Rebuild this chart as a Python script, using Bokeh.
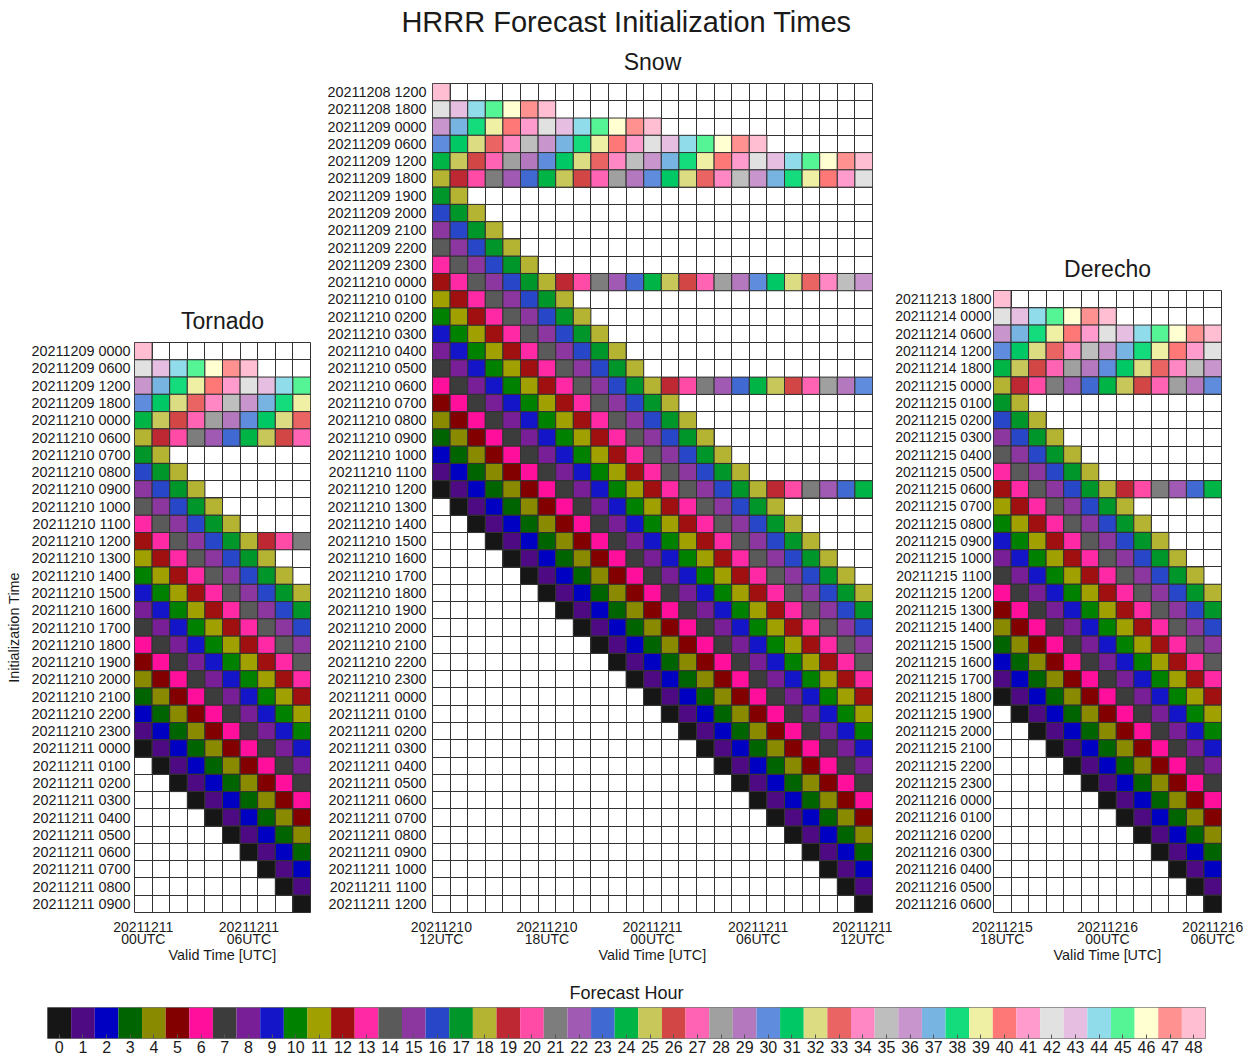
import pandas as pd
from bokeh.plotting import figure
from bokeh.models import ColumnDataSource, FixedTicker, Range1d, Spacer
from bokeh.layouts import row, column
from bokeh.core.properties import value
from bokeh.embed import file_html
from bokeh.resources import INLINE

FONT = "Liberation Sans"
TXT = "#1a1a1a"
EDGE = "#333333"

# ---------------- data ----------------
forecast_hours = list(range(49))
palette = [
    "#161616", "#4e0a82", "#0000c3", "#006400", "#8a8a00", "#820000", "#ff0f9b",
    "#3c3c3c", "#781e96", "#1414c8", "#008200", "#a0a000", "#a01010", "#ff28a5",
    "#5a5a5a", "#8c37a0", "#2846c8", "#00962a", "#b4b432", "#be2832", "#ff4ba5",
    "#7d7d7d", "#a05ab4", "#4169d2", "#00b446", "#c8c85a", "#d24646", "#ff64b4",
    "#a0a0a0", "#b478be", "#5f8cdc", "#00c864", "#dcdc82", "#eb6464", "#ff87c3",
    "#bebebe", "#c896cd", "#78b4e1", "#14dc7d", "#f0f0a5", "#ff7878", "#ff9bcd",
    "#e1e1e1", "#e6bee1", "#91dceb", "#55f596", "#ffffd2", "#ff9191", "#ffbed2",
]

long_run_init_hours = [0, 6, 12, 18]
long_run_length = 48
short_run_length = 18

tornado_init = [
    "20211209 0000", "20211209 0600", "20211209 1200", "20211209 1800",
    "20211210 0000", "20211210 0600", "20211210 0700", "20211210 0800",
    "20211210 0900", "20211210 1000", "20211210 1100", "20211210 1200",
    "20211210 1300", "20211210 1400", "20211210 1500", "20211210 1600",
    "20211210 1700", "20211210 1800", "20211210 1900", "20211210 2000",
    "20211210 2100", "20211210 2200", "20211210 2300", "20211211 0000",
    "20211211 0100", "20211211 0200", "20211211 0300", "20211211 0400",
    "20211211 0500", "20211211 0600", "20211211 0700", "20211211 0800",
    "20211211 0900",
]
tornado_valid = ("2021-12-11 00:00", "2021-12-11 09:00")

snow_init = [
    "20211208 1200", "20211208 1800", "20211209 0000", "20211209 0600",
    "20211209 1200", "20211209 1800", "20211209 1900", "20211209 2000",
    "20211209 2100", "20211209 2200", "20211209 2300",
    "20211210 0000", "20211210 0100", "20211210 0200", "20211210 0300",
    "20211210 0400", "20211210 0500", "20211210 0600", "20211210 0700",
    "20211210 0800", "20211210 0900", "20211210 1000", "20211210 1100",
    "20211210 1200", "20211210 1300", "20211210 1400", "20211210 1500",
    "20211210 1600", "20211210 1700", "20211210 1800", "20211210 1900",
    "20211210 2000", "20211210 2100", "20211210 2200", "20211210 2300",
    "20211211 0000", "20211211 0100", "20211211 0200", "20211211 0300",
    "20211211 0400", "20211211 0500", "20211211 0600", "20211211 0700",
    "20211211 0800", "20211211 0900", "20211211 1000", "20211211 1100",
    "20211211 1200",
]
snow_valid = ("2021-12-10 12:00", "2021-12-11 12:00")

derecho_init = [
    "20211213 1800", "20211214 0000", "20211214 0600", "20211214 1200",
    "20211214 1800",
    "20211215 0000", "20211215 0100", "20211215 0200", "20211215 0300",
    "20211215 0400", "20211215 0500", "20211215 0600", "20211215 0700",
    "20211215 0800", "20211215 0900", "20211215 1000", "20211215 1100",
    "20211215 1200", "20211215 1300", "20211215 1400", "20211215 1500",
    "20211215 1600", "20211215 1700", "20211215 1800", "20211215 1900",
    "20211215 2000", "20211215 2100", "20211215 2200", "20211215 2300",
    "20211216 0000", "20211216 0100", "20211216 0200", "20211216 0300",
    "20211216 0400", "20211216 0500", "20211216 0600",
]
derecho_valid = ("2021-12-15 18:00", "2021-12-16 06:00")

# ---------------- layout constants ----------------
TOP = 44          # border above each grid (holds the panel title)
BOTTOM = 61       # border below each grid (tick labels + axis label)
ROW_TOP = 39      # height of the main-title strip
SNOW_H = TOP + 829 + BOTTOM


def style_axes(p):
    p.axis.axis_line_color = None
    p.axis.major_tick_line_color = None
    p.axis.minor_tick_line_color = None
    p.axis.major_label_text_font = FONT
    p.axis.major_label_text_color = TXT
    p.axis.axis_label_text_font = FONT
    p.axis.axis_label_text_color = TXT
    p.axis.axis_label_text_font_style = "normal"


def panel(name, init_labels, valid_span, left, frame_w, right, frame_h,
          ylab_size="14.4px", ylab_standoff=4, ylabel=None):
    valid = pd.date_range(valid_span[0], valid_span[1], freq="h")
    inits = pd.to_datetime(init_labels, format="%Y%m%d %H%M")
    xs, ys, cs, hs = [], [], [], []
    for r, it in enumerate(inits):
        length = long_run_length if it.hour in long_run_init_hours else short_run_length
        for c, vt in enumerate(valid):
            h = int((vt - it) / pd.Timedelta(hours=1))
            if 0 <= h <= length:
                xs.append(c)
                ys.append(r)
                cs.append(palette[h])
                hs.append(h)
    src = ColumnDataSource(dict(x=xs, y=ys, color=cs, hour=hs))
    nr, nc = len(init_labels), len(valid)

    p = figure(width=left + frame_w + right, height=TOP + frame_h + BOTTOM,
               x_range=Range1d(-0.5, nc - 0.5), y_range=Range1d(nr - 0.5, -0.5),
               output_backend="svg", toolbar_location=None,
               min_border_left=left, min_border_right=right,
               min_border_top=TOP, min_border_bottom=BOTTOM, title=name)
    p.rect(x="x", y="y", width=1, height=1, source=src,
           fill_color="color", line_color=EDGE, line_width=1)

    p.title.align = "center"
    p.title.vertical_align = "middle"
    p.title.text_font = FONT
    p.title.text_font_size = "23px"
    p.title.text_font_style = "normal"
    p.title.text_color = TXT
    if "standoff" in p.title.properties():
        p.title.standoff = 16

    p.xgrid.ticker = FixedTicker(ticks=[k - 0.5 for k in range(nc + 1)])
    p.ygrid.ticker = FixedTicker(ticks=[k - 0.5 for k in range(nr + 1)])
    p.grid.grid_line_color = EDGE
    p.grid.grid_line_alpha = 1.0
    p.grid.grid_line_width = 1
    p.outline_line_color = EDGE
    p.outline_line_width = 1

    xt = [i for i, v in enumerate(valid) if v.hour % 6 == 0]
    p.xaxis.ticker = FixedTicker(ticks=xt)
    p.xaxis.major_label_overrides = {i: valid[i].strftime("%Y%m%d\n%HUTC") for i in xt}
    p.yaxis.ticker = FixedTicker(ticks=list(range(nr)))
    p.yaxis.major_label_overrides = {i: lbl for i, lbl in enumerate(init_labels)}

    style_axes(p)
    p.xaxis.major_label_text_font_size = "14px"
    p.xaxis.major_label_text_line_height = 0.8
    p.xaxis.major_label_standoff = 6
    p.xaxis.axis_label = "Valid Time [UTC]"
    p.xaxis.axis_label_text_font_size = "14.4px"
    p.xaxis.axis_label_standoff = -3
    p.yaxis.major_label_text_font_size = ylab_size
    p.yaxis.major_label_standoff = ylab_standoff
    if ylabel:
        p.yaxis.axis_label = ylabel
        p.yaxis.axis_label_text_font_size = "14.4px"
        p.yaxis.axis_label_standoff = 7
    p.xaxis.major_tick_out = 0
    p.yaxis.major_tick_out = 0
    return p


tor = panel("Tornado", tornado_init, tornado_valid, 134, 176, 10, 570,
            ylab_standoff=4, ylabel="Initialization Time")
snow = panel("Snow", snow_init, snow_valid, 112, 440, 20, 829, ylab_standoff=6)
der = panel("Derecho", derecho_init, derecho_valid, 100, 229, 34, 622,
            ylab_size="14px", ylab_standoff=2)

tor_col = column(Spacer(width=tor.width, height=SNOW_H - tor.height), tor)
der_col = column(Spacer(width=der.width, height=SNOW_H - der.height), der)

# ---------------- main title ----------------
tf = figure(width=1256, height=ROW_TOP, x_range=Range1d(0, 1), y_range=Range1d(ROW_TOP, 0),
            output_backend="svg", toolbar_location=None, min_border=0,
            x_axis_location=None, y_axis_location=None)
tf.text(x=[0.5], y=[21.5], text=["HRRR Forecast Initialization Times"],
        text_align="center", text_baseline="middle", text_font=value(FONT),
        text_font_size="29px", text_color=TXT)
tf.grid.visible = False
tf.outline_line_color = None

# ---------------- colour bar ----------------
cb_src = ColumnDataSource(dict(hour=forecast_hours, color=palette,
                               mid=[0.5] * len(forecast_hours)))
cb = figure(width=1256, height=34 + 31 + 21, x_range=Range1d(-0.5, 48.5), y_range=Range1d(0, 1),
            output_backend="svg", toolbar_location=None,
            min_border_left=47, min_border_right=51, min_border_top=34,
            min_border_bottom=21, title="Forecast Hour", y_axis_location=None)
cb.rect(x="hour", y="mid", width=1, height=1, source=cb_src,
        fill_color="color", line_color=None)
cb.grid.visible = False
cb.outline_line_color = "#7a7a7a"
cb.title.align = "center"
cb.title.text_font = FONT
cb.title.text_font_size = "18px"
cb.title.text_font_style = "normal"
cb.title.text_color = TXT
cb.xaxis.ticker = FixedTicker(ticks=forecast_hours)
style_axes(cb)
cb.xaxis.major_tick_line_color = "#555555"
cb.xaxis.major_tick_in = 4
cb.xaxis.major_tick_out = 0
cb.xaxis.major_label_text_font_size = "16px"
cb.xaxis.major_label_standoff = 2

layout = column(tf, row(tor_col, snow, der_col), cb)

open("out.html", "w").write(file_html(layout, INLINE, title="HRRR Forecast Initialization Times"))
